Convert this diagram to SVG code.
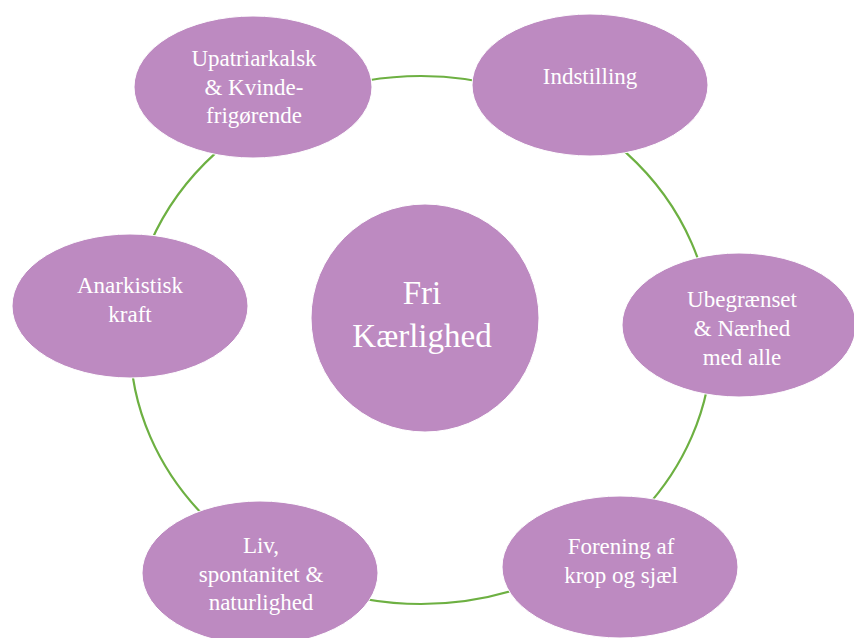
<svg xmlns="http://www.w3.org/2000/svg" width="854" height="638" viewBox="0 0 854 638">
<style>
.node{fill:#BD8AC1;stroke:#ffffff;stroke-width:1}
.t{font-family:'Liberation Serif','Times New Roman',serif;font-size:23px;fill:#ffffff;text-anchor:middle}
.c{font-size:33px}
.ring{fill:none;stroke:#6DB042;stroke-width:2.2}
</style>
<rect width="854" height="638" fill="#ffffff"/>
<g id="connectors">
<ellipse class="ring" cx="421" cy="340" rx="291" ry="264"/>
</g>
<g id="center">
<circle class="node" cx="425" cy="318" r="114"/>
<text class="t c" x="422" y="304">Fri</text>
<text class="t c" x="422" y="347">Kærlighed</text>
</g>
<g id="n1">
<ellipse class="node" cx="253" cy="87" rx="119" ry="71"/>
<text class="t" x="254" y="66">Upatriarkalsk</text>
<text class="t" x="254" y="95">&amp; Kvinde-</text>
<text class="t" x="254" y="123">frigørende</text>
</g>
<g id="n2">
<ellipse class="node" cx="590" cy="85" rx="118" ry="71"/>
<text class="t" x="590" y="84">Indstilling</text>
</g>
<g id="n3">
<ellipse class="node" cx="739" cy="325" rx="117" ry="72"/>
<text class="t" x="742" y="307">Ubegrænset</text>
<text class="t" x="742" y="336">&amp; Nærhed</text>
<text class="t" x="742" y="365">med alle</text>
</g>
<g id="n4">
<ellipse class="node" cx="620" cy="567" rx="118" ry="71"/>
<text class="t" x="621" y="554">Forening af</text>
<text class="t" x="621" y="583">krop og sjæl</text>
</g>
<g id="n5">
<ellipse class="node" cx="260" cy="573" rx="118" ry="72"/>
<text class="t" x="261" y="553">Liv,</text>
<text class="t" x="261" y="582">spontanitet &amp;</text>
<text class="t" x="261" y="610">naturlighed</text>
</g>
<g id="n6">
<ellipse class="node" cx="130" cy="306" rx="118" ry="72"/>
<text class="t" x="130" y="293">Anarkistisk</text>
<text class="t" x="130" y="322">kraft</text>
</g>
</svg>
